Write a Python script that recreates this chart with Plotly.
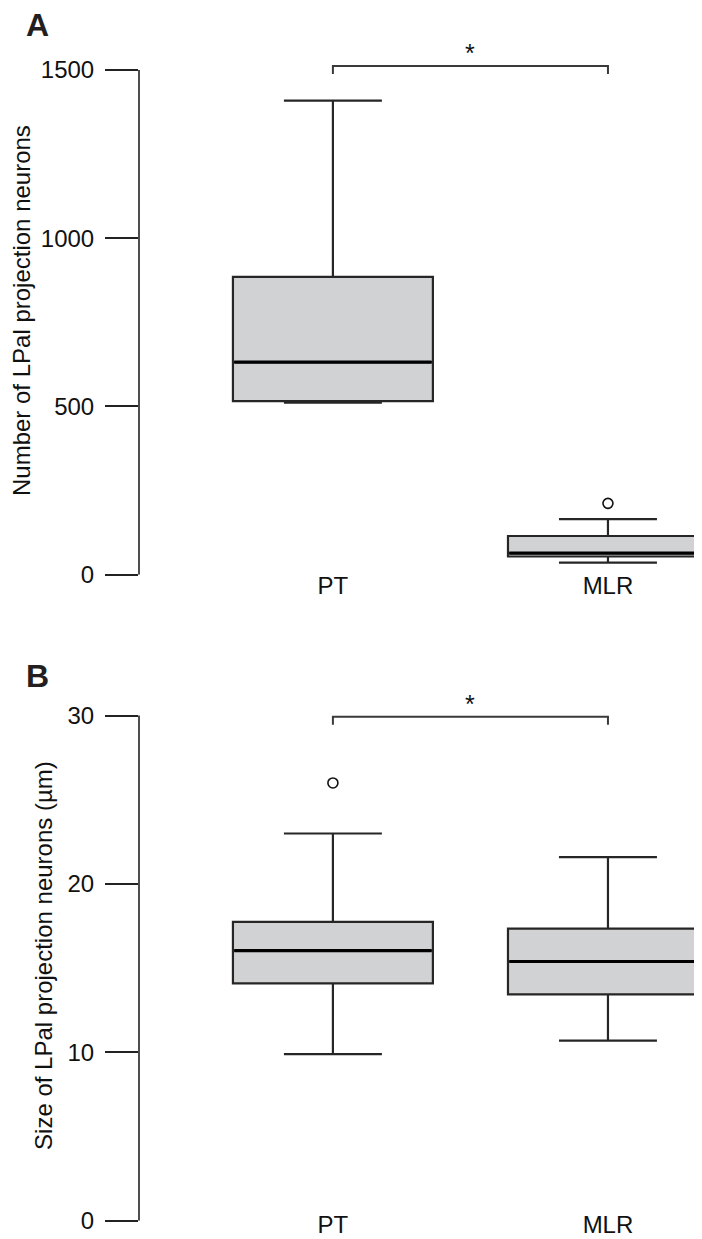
import plotly.graph_objects as go

# ---- data ----
categories = ["PT", "MLR"]

# Panel A: Number of LPal projection neurons
a_lower = [511, 36]
a_q1 = [516, 54]
a_median = [632, 64]
a_q3 = [885, 115]
a_upper = [1409, 165]
a_outlier_x = ["MLR"]
a_outlier_y = [212]
a_ticks = [0, 500, 1000, 1500]

# Panel B: Size of LPal projection neurons (µm)
b_lower = [9.9, 10.7]
b_q1 = [14.1, 13.45]
b_median = [16.05, 15.4]
b_q3 = [17.75, 17.35]
b_upper = [23.0, 21.6]
b_outlier_x = ["PT"]
b_outlier_y = [26.0]
b_ticks = [0, 10, 20, 30]

W, H = 702, 1239
ML = 131
FONT = "Liberation Sans, Arial, Helvetica, sans-serif"
BOXW = 0.727
xpos = list(range(len(categories)))
cat_index = {c: i for i, c in enumerate(categories)}


def frac(px):
    return 1 - px / H


fig = go.Figure()

panels = [
    dict(ax="", lo=a_lower, q1=a_q1, md=a_median, q3=a_q3, up=a_upper,
         ox=a_outlier_x, oy=a_outlier_y, ticks=a_ticks,
         rng=[0, 1570], dom=[frac(572.7), frac(572.7 - 1570 * 0.34)],
         title="Number of LPal projection neurons",
         br=1512, brtick=1488, star=1550, letter="A", lety=17, xstand=-6),
    dict(ax="2", lo=b_lower, q1=b_q1, md=b_median, q3=b_q3, up=b_upper,
         ox=b_outlier_x, oy=b_outlier_y, ticks=b_ticks,
         rng=[0, 31.5], dom=[frac(1225.7), frac(1225.7 - 31.5 * 17.02)],
         title="Size of LPal projection neurons (µm)",
         br=29.93, brtick=29.45, star=30.68, letter="B", lety=675, xstand=-13),
]

for p in panels:
    xa, ya = "x" + p["ax"], "y" + p["ax"]
    fig.add_trace(go.Box(
        x=xpos, q1=p["q1"], median=p["md"], q3=p["q3"],
        lowerfence=p["lo"], upperfence=p["up"],
        width=BOXW, whiskerwidth=0.49,
        fillcolor="#d1d2d4", line=dict(color="#262626", width=2.2),
        boxpoints=False, hoverinfo="skip", showlegend=False,
        xaxis=xa, yaxis=ya,
    ))
    # thicker median lines
    for i, m in zip(xpos, p["md"]):
        fig.add_trace(go.Scatter(
            x=[i - BOXW / 2 + 0.005, i + BOXW / 2 - 0.005], y=[m, m],
            mode="lines", line=dict(color="#000000", width=3.2),
            showlegend=False, hoverinfo="skip", xaxis=xa, yaxis=ya,
        ))
    # outliers
    fig.add_trace(go.Scatter(
        x=[cat_index[c] for c in p["ox"]], y=p["oy"], mode="markers",
        marker=dict(symbol="circle-open", size=10, color="#111111",
                    line=dict(width=1.6)),
        showlegend=False, hoverinfo="skip", xaxis=xa, yaxis=ya,
    ))
    # axis spine from first to last tick
    fig.add_shape(type="line", xref=xa + " domain", yref=ya,
                  x0=0, x1=0, y0=p["ticks"][0], y1=p["ticks"][-1],
                  line=dict(color="#222222", width=1.6))
    # significance bracket
    fig.add_shape(type="path", xref=xa, yref=ya,
                  path=f"M {xpos[0]},{p['brtick']} L {xpos[0]},{p['br']} "
                       f"L {xpos[1]},{p['br']} L {xpos[1]},{p['brtick']}",
                  line=dict(color="#3a3a3a", width=2))
    fig.add_annotation(xref=xa, yref=ya, x=(xpos[0] + xpos[1]) / 2, y=p["star"],
                       text="*", showarrow=False, yanchor="middle",
                       font=dict(size=25, color="#111111", family=FONT))
    fig.add_annotation(xref="paper", yref="paper", x=(16 - ML) / (W - ML),
                       y=frac(p["lety"]),
                       xanchor="left", yanchor="middle", text=f"<b>{p['letter']}</b>",
                       showarrow=False, font=dict(size=32, color="#231f20", family=FONT))

axis_common = dict(showgrid=False, zeroline=False, showline=False)
layout_axes = {}
for p in panels:
    xk = "xaxis" + p["ax"]
    yk = "yaxis" + p["ax"]
    layout_axes[xk] = dict(
        **axis_common, domain=[0, 1], range=[-0.705, 1.371],
        tickvals=xpos, ticktext=categories, ticks="",
        ticklabelstandoff=p["xstand"],
        tickfont=dict(size=24, color="#111111", family=FONT),
        anchor="y" + p["ax"],
    )
    layout_axes[yk] = dict(
        **axis_common, domain=p["dom"], range=p["rng"],
        tickvals=p["ticks"], ticks="outside", ticklen=33, tickwidth=1.6,
        tickcolor="#222222", ticklabelstandoff=6,
        tickfont=dict(size=24, color="#111111", family=FONT),
        title=dict(text=p["title"], standoff=8,
                   font=dict(size=24, color="#111111", family=FONT)),
        anchor="x" + p["ax"],
    )

fig.update_layout(
    width=W, height=H,
    margin=dict(l=ML, r=0, t=0, b=0),
    paper_bgcolor="white", plot_bgcolor="white",
    showlegend=False,
    **layout_axes,
)

fig.write_html("out.html")
